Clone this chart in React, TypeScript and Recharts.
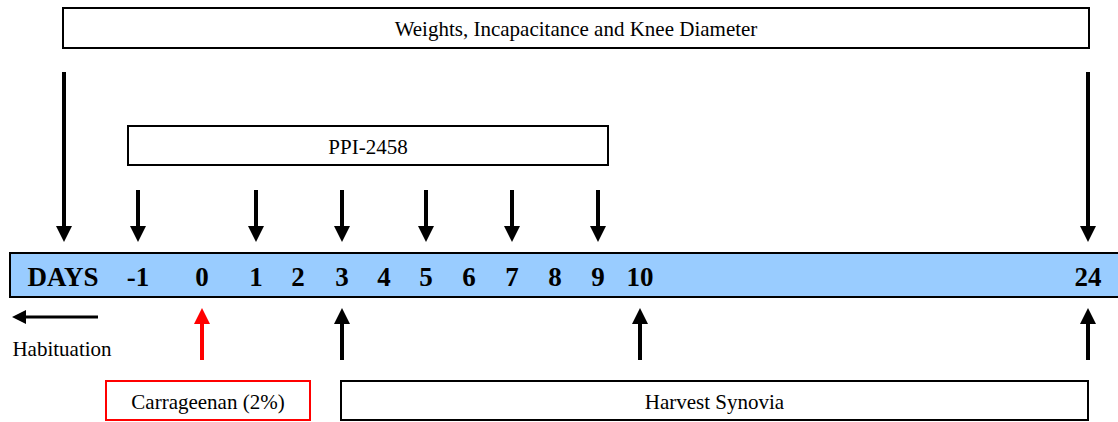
import React from 'react';
import {
  ComposedChart, XAxis, YAxis, Scatter, ReferenceArea, ReferenceLine,
} from 'recharts';

// timeline layout units: x 0..1118, y 0..422 (top down)
const dayLabels = ['DAYS', '-1', '0', '1', '2', '3', '4', '5', '6', '7', '8', '9', '10', '24'];
const dayX = [63, 138, 202, 256, 298, 342, 384, 426, 469, 512, 555, 598, 640, 1088];
const dayRowY = 277;

// measurements (weights etc.) – long arrows from the top box
const measureX = [64, 1088];
const measureTop = 72;
// PPI-2458 dosing days
const doseX = [138, 256, 342, 426, 512, 598];
const doseTop = 190;
const downTip = 242;

// carrageenan injection (red) and synovia harvest (black)
const upX = [202, 342, 640, 1088];
const upKind = ['carrageenan', 'harvest', 'harvest', 'harvest'];
const upBottom = 360;
const upTip = 308;

const habituation = { from: 98, to: 12, y: 317 };

const boxLabels = ['Weights, Incapacitance and Knee Diameter', 'PPI-2458', 'Carrageenan (2%)', 'Harvest Synovia'];
const boxX1 = [63, 128, 106, 341];
const boxX2 = [1089, 608, 310, 1088];
const boxY1 = [8, 126, 381, 381];
const boxY2 = [48, 165, 420, 420];

const SERIF = '"Liberation Serif", "Times New Roman", serif';
const HEAD = 16;

const downHeads = [...measureX, ...doseX].map((x) => ({ x, y: downTip }));
const upHeads = upX.map((x, i) => ({ x, y: upTip, kind: upKind[i] }));
const dayPoints = dayLabels.map((label, i) => ({ x: dayX[i], y: dayRowY, label }));
const boxPoints = boxLabels.map((label, i) => ({
  x: (boxX1[i] + boxX2[i]) / 2,
  y: (boxY1[i] + boxY2[i]) / 2 + 1,
  label,
}));
const habPoints = [{ x: 62, y: 349, label: 'Habituation' }];

const DownHead = (p: any) => (
  <polygon
    points={`${p.cx - HEAD / 2},${p.cy - HEAD} ${p.cx + HEAD / 2},${p.cy - HEAD} ${p.cx},${p.cy}`}
    fill="#000"
  />
);

const UpHead = (p: any) => (
  <polygon
    points={`${p.cx - HEAD / 2},${p.cy + HEAD} ${p.cx + HEAD / 2},${p.cy + HEAD} ${p.cx},${p.cy}`}
    fill={p.payload.kind === 'carrageenan' ? '#ff0000' : '#000'}
  />
);

const LeftHead = (p: any) => (
  <polygon
    points={`${p.cx + 14},${p.cy - 7} ${p.cx + 14},${p.cy + 7} ${p.cx},${p.cy}`}
    fill="#000"
  />
);

const makeText = (size: number, bold: boolean) => (p: any) => (
  <text
    x={p.cx}
    y={p.cy}
    textAnchor="middle"
    dominantBaseline="central"
    fontFamily={SERIF}
    fontSize={size}
    fontWeight={bold ? 'bold' : 'normal'}
    fill="#000"
  >
    {p.payload.label}
  </text>
);

const App: React.FC = () => (
  <div style={{ position: 'absolute', left: 0, top: 0, background: '#fff' }}>
    <ComposedChart width={1118} height={422} margin={{ top: 0, right: 0, bottom: 0, left: 0 }}>
      <XAxis type="number" dataKey="x" domain={[0, 1118]} hide allowDataOverflow />
      <YAxis type="number" dataKey="y" domain={[0, 422]} reversed hide allowDataOverflow />

      {boxLabels.map((l, i) => (
        <ReferenceArea
          key={l}
          x1={boxX1[i]}
          x2={boxX2[i]}
          y1={boxY1[i]}
          y2={boxY2[i]}
          fill="#fff"
          fillOpacity={1}
          stroke={i === 2 ? '#ff0000' : '#000'}
          strokeWidth={2}
          ifOverflow="visible"
        />
      ))}

      <ReferenceArea
        x1={10}
        x2={1125}
        y1={253}
        y2={297}
        fill="#99CCFF"
        fillOpacity={1}
        stroke="#000"
        strokeWidth={2}
        ifOverflow="visible"
      />

      {measureX.map((x) => (
        <ReferenceLine key={`m${x}`} segment={[{ x, y: measureTop }, { x, y: downTip - HEAD + 1 }]} stroke="#000" strokeWidth={4} />
      ))}
      {doseX.map((x) => (
        <ReferenceLine key={`d${x}`} segment={[{ x, y: doseTop }, { x, y: downTip - HEAD + 1 }]} stroke="#000" strokeWidth={4} />
      ))}
      {upX.map((x, i) => (
        <ReferenceLine
          key={`u${x}`}
          segment={[{ x, y: upBottom }, { x, y: upTip + HEAD - 1 }]}
          stroke={upKind[i] === 'carrageenan' ? '#ff0000' : '#000'}
          strokeWidth={4}
        />
      ))}
      <ReferenceLine
        segment={[{ x: habituation.from, y: habituation.y }, { x: habituation.to + 13, y: habituation.y }]}
        stroke="#000"
        strokeWidth={3}
      />

      <Scatter data={downHeads} shape={DownHead} isAnimationActive={false} />
      <Scatter data={upHeads} shape={UpHead} isAnimationActive={false} />
      <Scatter data={[{ x: habituation.to, y: habituation.y }]} shape={LeftHead} isAnimationActive={false} />
      <Scatter data={dayPoints} shape={makeText(27, true)} isAnimationActive={false} />
      <Scatter data={boxPoints} shape={makeText(21, false)} isAnimationActive={false} />
      <Scatter data={habPoints} shape={makeText(21, false)} isAnimationActive={false} />
    </ComposedChart>
  </div>
);

export default App;
